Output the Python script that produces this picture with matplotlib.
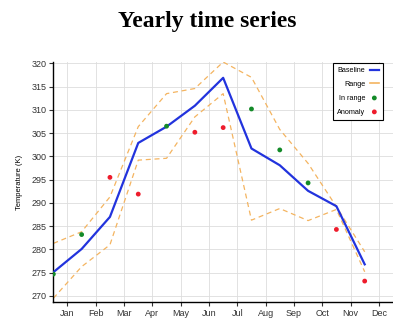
import numpy as np
import matplotlib
matplotlib.use("Agg")
import matplotlib.pyplot as plt

# monthly data
months = ["Jan", "Feb", "Mar", "Apr", "May", "Jun",
          "Jul", "Aug", "Sep", "Oct", "Nov", "Dec"]
month_idx = list(range(12))
baseline = [275.1, 280.1, 287.0, 302.9, 306.4, 310.9,
            316.9, 301.7, 298.1, 292.6, 289.3, 276.8]
range_hi = [281.3, 283.8, 291.3, 306.4, 313.5, 314.6,
            320.3, 317.0, 305.8, 298.5, 289.2, 279.5]
range_lo = [269.5, 276.3, 281.0, 299.2, 299.6, 308.5,
            313.5, 286.3, 288.8, 286.2, 288.6, 275.2]
observed = [274.7, 283.2, 295.5, 291.9, 306.5, 305.2,
            306.2, 310.2, 301.4, 294.3, 284.3, 273.2]
y_ticks = [270, 275, 280, 285, 290, 295, 300, 305, 310, 315, 320]

plt.rcParams['font.family'] = ['Liberation Sans', 'DejaVu Sans']

fig = plt.figure(figsize=(3.93, 3.18), dpi=100)
ax = fig.add_axes([0.1357, 0.0503, 0.8643, 0.7547])

obs = np.array(observed)
lo = np.array(range_lo)
hi = np.array(range_hi)
x = np.array(month_idx)
inside = (obs >= lo) & (obs <= hi)

rng_color = "#f4b460"
ax.plot(x, hi, ls=(0, (4, 3)), color=rng_color, lw=0.9, zorder=2)
ax.plot(x, lo, ls=(0, (4, 3)), color=rng_color, lw=0.9, zorder=2)
ax.plot(x, baseline, color="#2233dd", lw=1.6, zorder=3, label="Baseline")
ax.plot([], [], color=rng_color, lw=1.2, label="Range")
ax.scatter(x[inside], obs[inside], s=12, color="#138a28", zorder=4,
           label="In range", edgecolors="none")
ax.scatter(x[~inside], obs[~inside], s=12, color="#ee1c2c", zorder=4,
           label="Anomaly", edgecolors="none")

ax.set_xlim(0, 12.0)
ax.set_ylim(268.7, 320.3)
ax.set_xticks([m + 0.5 for m in month_idx])
ax.set_xticklabels(months)
ax.set_yticks(y_ticks)
ax.tick_params(labelsize=6.5, length=3, width=0.8, pad=2, colors="#333333")
ax.grid(True, color="#dddddd", lw=0.6)
ax.set_axisbelow(True)
for s in ["top", "right"]:
    ax.spines[s].set_visible(False)
for s in ["left", "bottom"]:
    ax.spines[s].set_linewidth(1.0)
ax.set_ylabel("Temperature (K)", fontsize=5.5, labelpad=6)

# legend box sits at about x 327-383, y 63-115 px in the reference
leg = ax.legend(loc="upper right", markerfirst=False, fontsize=5.2,
                fancybox=False, framealpha=1, edgecolor="black",
                handlelength=1.3, borderpad=0.55, labelspacing=0.95,
                handletextpad=0.6, borderaxespad=0,
                bbox_to_anchor=(383 / 393, 1 - 63 / 318),
                bbox_transform=fig.transFigure)
leg.get_frame().set_linewidth(0.8)

fig.suptitle("Yearly time series", fontsize=17, fontweight="bold",
             family="Liberation Serif", x=0.528, y=0.965)

fig.savefig("out.png", dpi=100)
